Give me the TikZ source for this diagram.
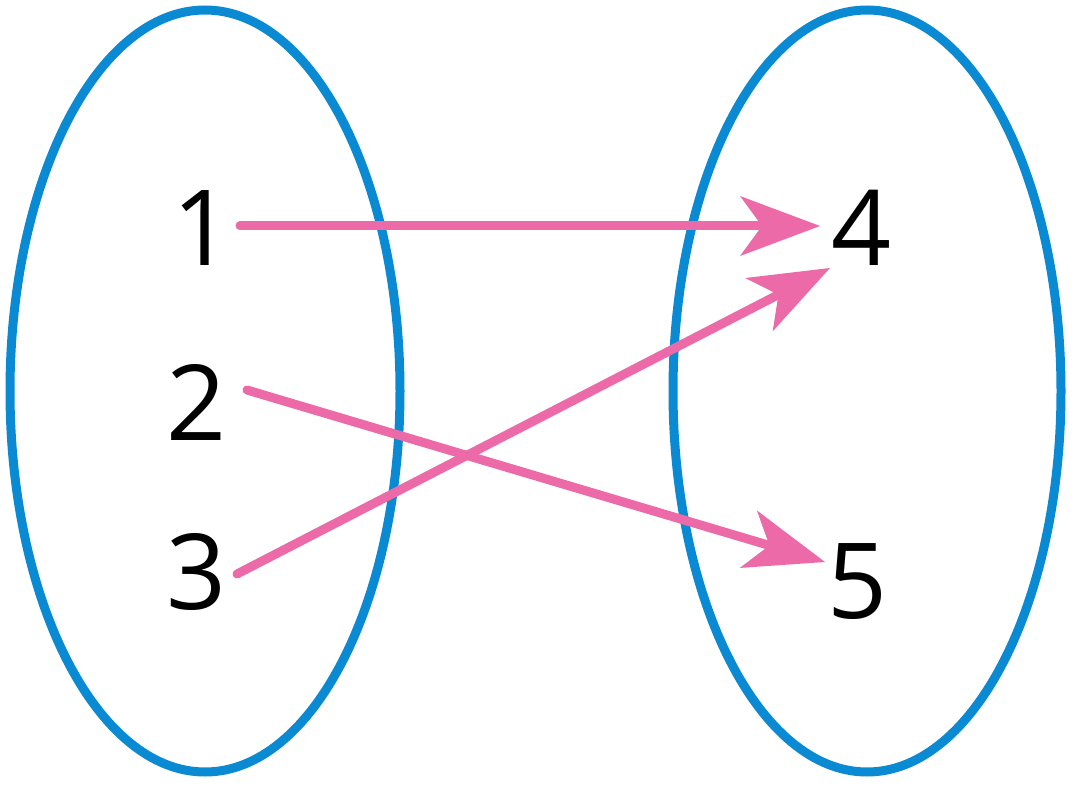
\documentclass[tikz,border=0pt]{standalone}
\usepackage{fontspec}
\setmainfont{Open Sans}
\usetikzlibrary{arrows.meta}
\definecolor{setblue}{HTML}{0A8AD2}
\definecolor{mappink}{HTML}{EC6AA8}
\tikzset{
  set/.style={draw=setblue, line width=9pt},
  elem/.style={font=\fontsize{105}{105}\selectfont, inner sep=0pt},
  map/.style={draw=mappink, line width=9pt, line cap=round,
    -{Stealth[length=80pt, width=60pt, inset=22pt, line width=0pt]}}
}
\begin{document}
\begin{tikzpicture}[x=1pt, y=-1pt]
    \useasboundingbox (0,0) rectangle (1072,786);
    \draw[set] (205,391) ellipse [x radius=195, y radius=381];
    \draw[set] (867,391) ellipse [x radius=194, y radius=381];

    \node[elem] (one) at (203,228) {1};
    \node[elem] (two) at (197,402) {2};
    \node[elem] (three) at (197,572) {3};
    \node[elem] (four) at (862,228) {4};
    \node[elem] (five) at (858,582) {5};

    \coordinate (from1) at (240,226);
    \coordinate (from2) at (247,390);
    \coordinate (from3) at (237,574);
    \coordinate (to1) at (820,226);
    \coordinate (to2) at (825,562);
    \coordinate (to3) at (830,268);

    \draw[map] (from1) -- (to1);
    \draw[map] (from2) -- (to2);
    \draw[map] (from3) -- (to3);
\end{tikzpicture}
\end{document}
